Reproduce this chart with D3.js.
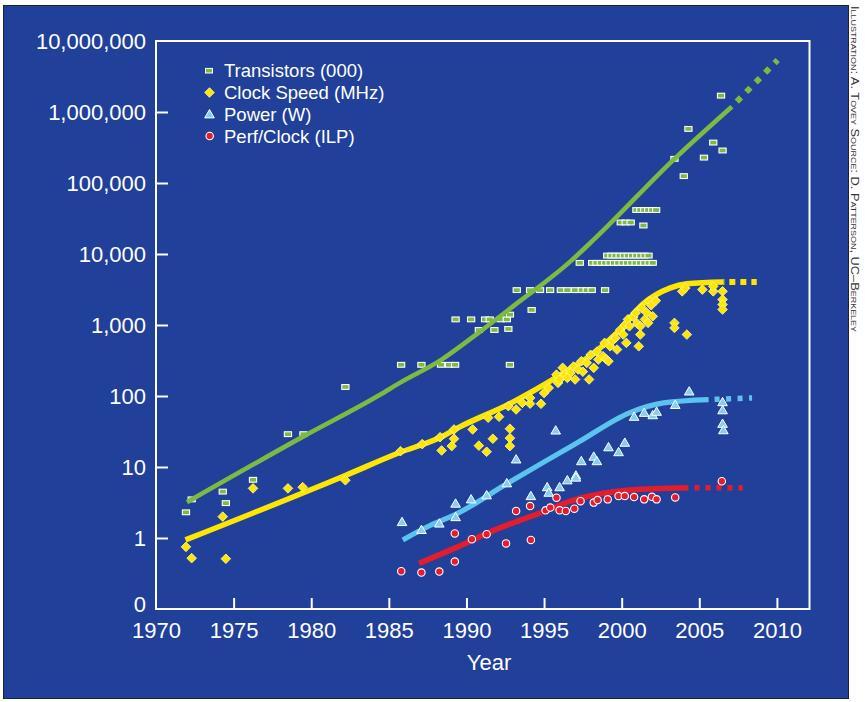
<!DOCTYPE html>
<html><head><meta charset="utf-8">
<script src="https://cdn.jsdelivr.net/npm/d3@7"></script>
<style>html,body{margin:0;padding:0;background:#fff;} svg{display:block;}</style>
</head><body>
<svg id="c" width="865" height="702"></svg>
<script>
// ---------- data ----------
const xTickYears = [1970,1975,1980,1985,1990,1995,2000,2005,2010];
const yTickValues = [0.1,1,10,100,1000,10000,100000,1000000,10000000];
const yTickLabels = ["0","1","10","100","1,000","10,000","100,000","1,000,000","10,000,000"];
const seriesNames = ["Transistors (000)","Clock Speed (MHz)","Power (W)","Perf/Clock (ILP)"];
const xTitle = "Year";
const credit = "Illustration: A. Tovey Source: D. Patterson, UC–Berkeley";

const transistors = [
 [1971.93,2.3],[1972.3,3.5],[1974.3,4.5],[1974.5,3.1],[1976.25,6.6],[1978.5,29],[1979.5,29],[1982.2,134],
 [1985.79,275],[1987.1,275],[1988.36,275],[1988.88,275],[1989.27,275],[1992.8,275],
 [1989.3,1200],[1990.3,1200],[1991.2,1200],[1991.5,1200],[1992.2,1200],[1992.6,1200],[1992.8,1400],
 [1990.8,850],[1991.8,850],[1992.7,880],[1994.2,1630],
 [1993.24,3100],[1994.1,3100],[1994.74,3100],[1995.39,3100],[1996.08,3100],[1996.5,3100],[1997.0,3100],[1997.43,3100],[1997.75,3100],[1998.07,3100],[1998.93,3100],
 [1997.3,7500],[1998.1,7500],[1998.38,7500],[1998.66,7500],[1998.94,7500],[1999.22,7500],[1999.5,7500],[1999.78,7500],[2000.06,7500],[2000.34,7500],[2000.62,7500],[2000.9,7500],[2001.18,7500],[2001.46,7500],[2001.74,7500],[2002.0,7500],
 [1999.07,9500],[1999.34,9500],[1999.6,9500],[1999.87,9500],[2000.14,9500],[2000.4,9500],[2000.67,9500],[2000.94,9500],[2001.2,9500],[2001.47,9500],[2001.73,9500],
 [1999.94,27800],[2000.26,27800],[2000.58,27800],[2001.4,25200],
 [2000.95,41600],[2001.2,41600],[2001.46,41600],[2001.71,41600],[2001.97,41600],[2002.22,41600],
 [2003.4,219000],[2004.0,125000],[2004.3,578000],[2005.3,228000],[2005.9,371000],[2006.5,287000],[2006.4,1700000]
];
const clockSpeed = [
 [1971.93,0.75],[1972.3,0.52],[1974.3,2.0],[1974.5,0.51],[1976.25,5.0],[1978.5,5.0],[1979.45,5.2],[1982.2,6.5],
 [1985.75,16.7],[1987.15,21],[1988.3,26.3],[1988.4,17.1],[1989.05,19.7],[1989.2,25],[1989.2,33.8],[1990.4,33.8],
 [1990.8,20],[1991.3,16.4],[1991.7,25],[1991.4,49.4],[1992.1,51],[1992.8,34.6],[1992.8,25.5],[1992.8,19.7],
 [1992.7,72],[1993.2,64.6],[1993.6,80],[1994.1,78],[1994.8,77.6],[1994.1,94],[1995.0,110],[1995.3,130],[1995.8,200],
 [1995.9,153],[1996.0,170],[1996.2,250],[1996.35,200],[1996.7,212],[1996.5,180],[1996.9,260],[1997.0,171],[1997.2,236],
 [1997.4,309],[1997.5,220],[1997.75,293],[1997.9,171],[1998.0,380],[1998.2,249],[1998.4,420],[1998.5,326],[1998.8,363],
 [1998.9,560],[1999.0,330],[1999.15,309],[1999.25,501],[1999.4,600],[1999.7,451],[1999.6,658],[1999.9,850],[2000.1,733],
 [2000.2,1000],[2000.3,560],[2000.4,1200],[2000.5,959],[2000.75,1300],[2000.9,1480],[2001.0,1050],[2001.1,501],[2001.2,733],
 [2001.2,959],[2001.3,1740],[2001.5,1200],[2001.6,1500],[2001.7,1071],[2001.8,2150],[2001.9,1900],[2002.0,1325],[2002.2,2200],
 [2003.4,1071],[2003.4,910],[2004.2,733],[2003.9,2980],[2004.1,3325],[2005.2,3150],[2005.9,2980],[2005.9,3500],
 [2006.5,2980],[2006.5,2280],[2006.5,1940],[2006.5,1650]
];
const power = [
 [1985.85,1.68],[1987.1,1.3],[1988.25,1.6],[1989.3,1.97],[1989.3,3.05],[1990.3,3.5],[1991.3,4.0],[1992.6,5.9],
 [1993.2,12.8],[1994.15,3.9],[1995.75,32.7],[1995.2,5.2],[1995.3,4.35],[1996.0,5.2],[1996.5,6.5],[1997.05,7.6],
 [1997.05,7.1],[1997.4,12.1],[1998.2,14],[1998.4,12.1],[1999.15,19],[1999.8,16.2],[2000.2,22],[2000.8,51],
 [2001.45,58],[2002.0,53.7],[2002.25,60],[2003.45,75],[2004.35,116],[2006.5,82],[2006.5,63],[2006.5,40.6],[2006.55,33]
];
const perfClock = [
 [1985.8,0.34],[1987.1,0.326],[1988.25,0.337],[1989.25,0.466],[1989.25,1.16],[1990.35,0.96],[1991.3,1.13],[1992.55,0.84],
 [1993.2,2.4],[1994.1,2.82],[1994.15,0.94],[1995.1,2.45],[1995.4,2.68],[1995.8,3.7],[1996.0,2.45],[1996.4,2.4],
 [1996.95,2.59],[1997.35,3.3],[1998.2,3.15],[1998.45,3.42],[1999.1,3.5],[1999.8,3.9],[2000.2,3.9],[2000.8,3.77],
 [2001.45,3.5],[2001.95,3.8],[2002.25,3.5],[2003.45,3.73],[2006.45,6.3]
];
const transistorTrend = [[1972,3.2],[1979.5,27],[1984.4,103],[1985.7,153],[1988.4,326],[1990.9,815],[1993,1830],[1996.7,7870],[1998.2,15900],[2003.4,219000],[2007.1,1190000]];
const transistorProjection = [[2007.1,1190000],[2010.05,5400000]];
const clockTrend = [[1971.9,0.94],[1982.2,7.6],[1985.7,16],[1988.3,26],[1989.6,37],[1992.8,78],[1996,195],[1998.2,400],[1999.7,780],[2001.4,2000],[2003.1,3300],[2004.2,3800],[2006.55,4040]];
const clockProjection = [[2006.55,4040],[2008.7,4040]];
const powerTrend = [[1985.9,0.94],[1987.65,1.5],[1989.3,2.15],[1992.6,5.8],[1995.2,12.5],[1997.3,23],[2000.5,58],[2002.7,80],[2005.6,89]];
const powerProjection = [[2005.6,89],[2008.4,94]];
const perfTrend = [[1986.95,0.44],[1989.25,0.72],[1991.95,1.33],[1995.2,2.45],[1996.7,3.3],[2000.5,4.73],[2004.3,5.1]];
const perfProjection = [[2004.3,5.1],[2007.8,5.1]];

// ---------- styles ----------
const BG = "#21409a";
const C_GREEN = "#7dba42", C_YELLOW = "#ffe600", C_BLUE = "#5cc3ef", C_TRI = "#86cdef", C_RED = "#e31d2b";
const FONT = "'Liberation Sans', Arial, sans-serif";

const svg = d3.select("#c");
svg.append("rect").attr("x",3.5).attr("y",5.5).attr("width",845).attr("height",693)
  .attr("fill",BG).attr("stroke","#222").attr("stroke-width",1);

const x = d3.scaleLinear().domain([1970,2012.1]).range([156,809.5]);
const y = d3.scaleLog().domain([0.1,1e7]).range([609,41]);

// frame
svg.append("rect").attr("x",156).attr("y",41).attr("width",809.5-156).attr("height",609-41)
  .attr("fill","none").attr("stroke","#fff").attr("stroke-width",2);

// axes
const yAxis = d3.axisLeft(y).tickValues(yTickValues).tickSize(-12).tickPadding(10)
  .tickFormat((d,i)=>yTickLabels[i]);
const gy = svg.append("g").attr("transform","translate(156,0)").call(yAxis);
gy.select(".domain").remove();
gy.selectAll(".tick line").attr("stroke","#fff").attr("stroke-width",2)
  .filter(d=>d===0.1||d===1e7).remove();
gy.selectAll(".tick text").attr("fill","#fff").style("font-family",FONT).style("font-size","22px")
  .attr("dy",d=>d===0.1?"2.5px":"0.34em");

const xAxis = d3.axisBottom(x).tickValues(xTickYears).tickSize(-11).tickPadding(13).tickFormat(d3.format("d"));
const gx = svg.append("g").attr("transform","translate(0,609)").call(xAxis);
gx.select(".domain").remove();
gx.selectAll(".tick line").attr("stroke","#fff").attr("stroke-width",2).filter(d=>d===1970).remove();
gx.selectAll(".tick text").attr("fill","#fff").style("font-family",FONT).style("font-size","22px");

svg.append("text").attr("x",489).attr("y",670).attr("text-anchor","middle").attr("fill","#fff")
  .style("font-family",FONT).style("font-size","22px").text(xTitle);

// lines
const line = d3.line().x(d=>x(d[0])).y(d=>y(d[1])).curve(d3.curveMonotoneX);
function trend(data,color,w){
  svg.append("path").attr("d",line(data)).attr("fill","none").attr("stroke",color).attr("stroke-width",w);
}
function proj(data,color,w,dash,off){
  svg.append("path").attr("d",line(data)).attr("fill","none").attr("stroke",color).attr("stroke-width",w)
    .attr("stroke-dasharray",dash).attr("stroke-dashoffset",off);
}

// transistor squares then green line
function squares(g,data){
  g.selectAll("rect.m").data(data).join("rect").attr("class","m")
   .attr("x",d=>x(d[0])-3.6).attr("y",d=>y(d[1])-2.4).attr("width",7.2).attr("height",4.8)
   .attr("fill",C_GREEN).attr("stroke","#fff").attr("stroke-width",1.1);
}
squares(svg.append("g"),transistors);
trend(transistorTrend,C_GREEN,4.6);
proj(transistorProjection,C_GREEN,6,"6,7.5",-7);
trend(clockTrend,C_YELLOW,5.5);
proj(clockProjection,C_YELLOW,6,"6,5",-6);
trend(powerTrend,C_BLUE,5.2);
proj(powerProjection,C_BLUE,5.5,"5,6.5",-6);
trend(perfTrend,C_RED,5.6);
proj(perfProjection,C_RED,5.6,"5,6",-6);

const diamond = d3.symbol().type(d3.symbolSquare).size(46);
const tri = d3.symbol().type(d3.symbolTriangle).size(40);
function diamonds(g,data){
  g.selectAll("path").data(data).join("path").attr("d",diamond())
   .attr("transform",d=>`translate(${x(d[0])},${y(d[1])}) rotate(45)`)
   .attr("fill",C_YELLOW).attr("stroke","#fff7a8").attr("stroke-width",0.8);
}
function triangles(g,data){
  g.selectAll("path").data(data).join("path").attr("d",tri())
   .attr("transform",d=>`translate(${x(d[0])},${y(d[1])+0.8})`)
   .attr("fill",C_TRI).attr("stroke","#fff").attr("stroke-width",1);
}
function circles(g,data){
  g.selectAll("circle").data(data).join("circle").attr("cx",d=>x(d[0])).attr("cy",d=>y(d[1])).attr("r",3.7)
   .attr("fill",C_RED).attr("stroke","#fff").attr("stroke-width",1.1);
}
diamonds(svg.append("g"),clockSpeed);
triangles(svg.append("g"),power);
circles(svg.append("g"),perfClock);

// legend
const lg = svg.append("g");
const ly = [70.7,92.5,114.3,136];
lg.append("rect").attr("x",205.5).attr("y",ly[0]-2.3).attr("width",7).attr("height",4.6)
  .attr("fill",C_GREEN).attr("stroke","#fff").attr("stroke-width",1);
lg.append("path").attr("d",diamond()).attr("transform",`translate(209.5,${ly[1]}) rotate(45)`)
  .attr("fill",C_YELLOW).attr("stroke","#fff7a8").attr("stroke-width",0.8);
lg.append("path").attr("d",tri()).attr("transform",`translate(209.5,${ly[2]+0.8})`)
  .attr("fill",C_TRI).attr("stroke","#fff").attr("stroke-width",1);
lg.append("circle").attr("cx",209.7).attr("cy",ly[3]).attr("r",3.7)
  .attr("fill",C_RED).attr("stroke","#fff").attr("stroke-width",1.1);
lg.selectAll("text").data(seriesNames).join("text")
  .attr("x",224).attr("y",(d,i)=>ly[i]+6.5).attr("fill","#fff")
  .style("font-family",FONT).style("font-size","18.5px").text(d=>d);

// credit
svg.append("text").attr("transform","translate(851,6) rotate(90)")
  .attr("fill","#333").style("font-family",FONT).style("font-size","11.5px")
  .style("font-variant","small-caps").attr("textLength",326).attr("lengthAdjust","spacingAndGlyphs")
  .text(credit);
</script>
</body></html>
